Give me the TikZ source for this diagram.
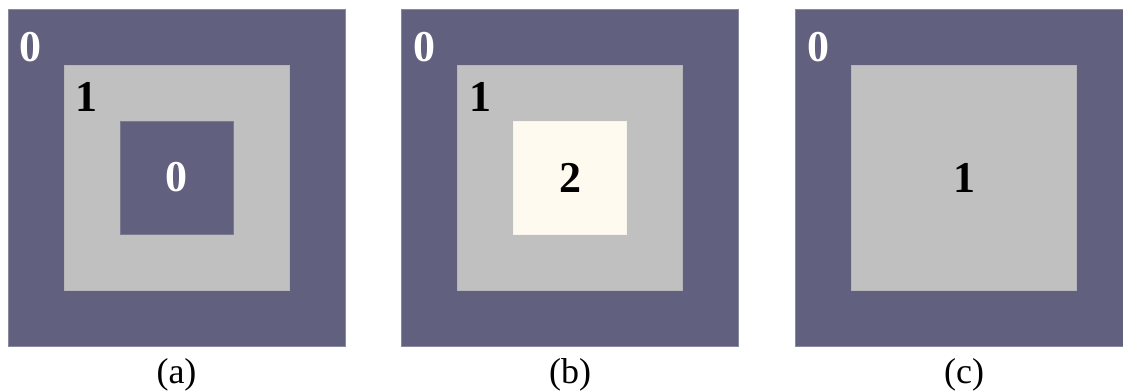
\documentclass[tikz,border=0pt]{standalone}
\usepackage{fontspec}
\setmainfont{Liberation Serif}
\usetikzlibrary{positioning}
\definecolor{slate}{HTML}{61617F}
\definecolor{silver}{HTML}{C0C0C0}
\definecolor{cream}{HTML}{FFFAF0}
\tikzset{
  square/.style={rectangle, inner sep=0pt, outer sep=0pt, line width=0.7pt},
  outerbox/.style={square, fill=slate, draw=slate!75!white, minimum size=337pt},
  innerbox/.style={square, fill=silver, draw=silver!90!slate, minimum size=225pt},
  corebox/.style={square, minimum size=113pt},
  numlabel/.style={font=\fontsize{44}{44}\selectfont\bfseries, inner sep=0pt},
  caption/.style={font=\fontsize{36}{36}\selectfont, anchor=base, inner sep=0pt}
}
\begin{document}
\begin{tikzpicture}[x=1pt, y=-1pt]
    \useasboundingbox (0,0) rectangle (1123,391);
    % panel (a)
    \node (outA) [outerbox] at (176.5,177.5) {};
    \node (inA) [innerbox] at (outA.center) {};
    \node (coreA) [corebox, fill=slate, draw=slate!85!white] at (outA.center) {};
    \node (numA) [numlabel, text=white] at (coreA.center) {0};
    % panel (b)
    \node (outB) [outerbox] at (570,177.5) {};
    \node (inB) [innerbox] at (outB.center) {};
    \node (coreB) [corebox, fill=cream, draw=cream!90!silver] at (outB.center) {};
    \node (numB) [numlabel] at (coreB.center) {2};
    % panel (c)
    \node (outC) [outerbox] at (964,177.5) {};
    \node (inC) [innerbox] at (outC.center) {};
    \node (numC) [numlabel] at (inC.center) {1};
    % corner labels and captions
    \foreach \p/\c in {A/a, B/b, C/c} {
        \node (zero\p) [numlabel, text=white] at ([shift={(22.5,38)}]out\p.north west) {0};
        \node (cap\p) [caption] at ([yshift=-37.5pt]out\p.south) {(\c)};
    }
    \foreach \p in {A, B} {
        \node (one\p) [numlabel] at ([shift={(22.5,31.5)}]in\p.north west) {1};
    }
\end{tikzpicture}
\end{document}
